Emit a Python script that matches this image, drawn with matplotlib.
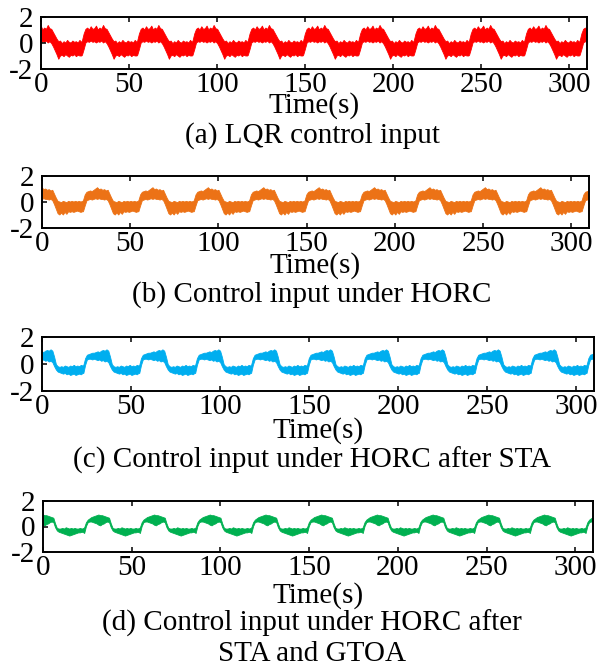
import numpy as np
import matplotlib
matplotlib.use('Agg')
import matplotlib.pyplot as plt

plt.rcParams['font.family'] = ['Liberation Serif', 'DejaVu Serif']
plt.rcParams['font.size'] = 21

# one cycle of each control input, sampled every second from the start of the rise
phase = list(range(32))
period = 31.4
first_rise = 23.5
t_end = 310

lqr_upper = [0.15, 0.7, 1.05, 1.15, 1.0, 1.25, 1.05, 1.1, 1.3, 1.0, 1.15, 1.05, 1.35, 1.1, 1.05, 0.8,
             0.55, 0.3, 0.1, 0.15, -0.05, 0.1, 0.0, 0.2, 0.05, 0.0, 0.15, 0.05, 0.1, 0.0, 0.2, 0.05]
lqr_lower = [-0.95, -0.5, 0.0, 0.1, 0.05, 0.15, 0.05, 0.1, 0.0, 0.1, 0.05, 0.15, 0.0, 0.1, -0.05, -0.3,
             -0.6, -0.9, -1.25, -1.0, -0.95, -1.05, -0.9, -1.0, -1.1, -0.95, -1.0, -0.9, -1.05, -0.95, -1.0, -1.0]

horc_upper = [0.1, 0.55, 0.75, 0.8, 0.85, 0.8, 0.9, 1.0, 1.1, 0.95, 1.0, 0.9, 0.95, 0.85, 0.9, 0.6,
              0.3, 0.05, 0.0, -0.05, 0.05, 0.0, -0.05, 0.05, 0.0, 0.05, 0.0, 0.05, 0.0, 0.05, 0.0, 0.05]
horc_lower = [-0.75, -0.3, 0.1, 0.15, 0.2, 0.15, 0.2, 0.25, 0.2, 0.25, 0.2, 0.2, 0.15, 0.2, 0.1, -0.2,
              -0.55, -0.9, -1.0, -0.85, -1.0, -0.8, -0.95, -0.75, -0.8, -0.75, -0.8, -0.75, -0.7, -0.75, -0.8, -0.75]

sta_upper = [-0.1, 0.4, 0.65, 0.7, 0.75, 0.8, 0.8, 0.85, 0.9, 0.85, 0.95, 1.0, 0.95, 1.05, 0.95, 0.5,
             -0.05, -0.2, -0.25, -0.2, -0.25, -0.15, -0.2, -0.25, -0.15, -0.2, -0.1, -0.2, -0.15, -0.2, -0.1, -0.15]
sta_lower = [-0.7, -0.1, 0.3, 0.35, 0.35, 0.3, 0.35, 0.3, 0.25, 0.3, 0.2, 0.25, 0.15, 0.2, 0.1, -0.2,
             -0.45, -0.6, -0.65, -0.7, -0.75, -0.7, -0.8, -0.75, -0.85, -0.8, -0.75, -0.85, -0.8, -0.75, -0.8, -0.7]

gtoa_upper = [-0.1, 0.3, 0.5, 0.6, 0.7, 0.75, 0.8, 0.85, 0.9, 0.85, 0.85, 0.8, 0.75, 0.7, 0.65, 0.2,
              -0.15, -0.2, -0.2, -0.15, -0.2, -0.1, -0.15, -0.2, -0.15, -0.2, -0.15, -0.2, -0.2, -0.15, -0.2, -0.15]
gtoa_lower = [-0.55, 0.0, 0.3, 0.35, 0.35, 0.3, 0.25, 0.2, 0.1, 0.05, 0.15, 0.2, 0.3, 0.35, 0.3, -0.1,
              -0.35, -0.45, -0.5, -0.55, -0.6, -0.65, -0.7, -0.75, -0.7, -0.65, -0.6, -0.55, -0.5, -0.5, -0.45, -0.5]

captions = [['(a) LQR control input'],
            ['(b) Control input under HORC'],
            ['(c) Control input under HORC after STA'],
            ['(d) Control input under HORC after', 'STA and GTOA']]
colors = ['#ff0000', '#ec7216', '#00aeef', '#00b050']
series = [(lqr_upper, lqr_lower), (horc_upper, horc_lower),
          (sta_upper, sta_lower), (gtoa_upper, gtoa_lower)]

W, H = 605, 668
# axes boxes in pixels: left, right, top, bottom
boxes = [(41, 587, 17, 69), (42, 589, 176, 228), (42, 594, 337, 391), (43, 593, 501, 552)]
label_y = [106, 266, 431, 596]
caption_y = [[136], [295], [460], [623, 654]]


def to_cycles(vals):
    ts, vs = [], []
    for k in range(-1, 10):
        for p, v in zip(phase, vals):
            ts.append(first_rise + k * period + p)
            vs.append(v)
    return np.array(ts), np.array(vs)


fig = plt.figure(figsize=(W / 100, H / 100), dpi=100)

for i, ((up, lo), color) in enumerate(zip(series, colors)):
    l, r, t, b = boxes[i]
    ax = fig.add_axes([l / W, 1 - b / H, (r - l) / W, (b - t) / H])
    tt, uu = to_cycles(up)
    _, ll = to_cycles(lo)
    ax.fill_between(tt, ll, uu, color=color, linewidth=0.6, edgecolor=color)
    ax.set_xlim(0, t_end)
    ax.set_ylim(-2, 2)
    ax.set_xticks([0, 50, 100, 150, 200, 250, 300])
    ax.set_yticks([-2, 0, 2])
    ax.set_yticklabels(['-2', '0', '2'])
    ax.tick_params(direction='in', top=True, right=False, length=3.5, width=1.1, pad=2)
    ax.tick_params(axis='y', pad=5.5)
    for s in ax.spines.values():
        s.set_linewidth(1.4)
    cx = (l + r) / 2 / W
    fig.text(cx, 1 - label_y[i] / H, 'Time(s)', ha='center', va='center')
    for line, y in zip(captions[i], caption_y[i]):
        fig.text(312 / W, 1 - y / H, line, ha='center', va='center')

fig.savefig('out.png', dpi=100)
